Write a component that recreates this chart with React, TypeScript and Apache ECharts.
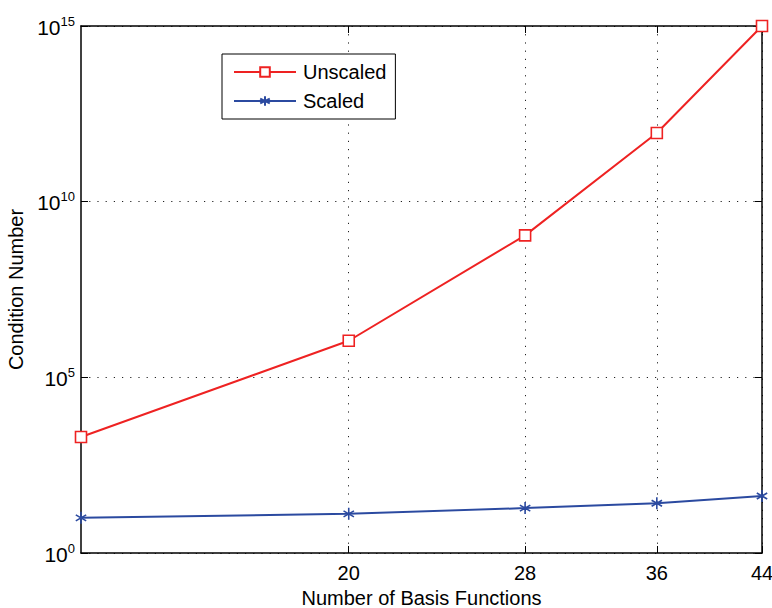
import React, { useEffect, useRef } from "react";
import * as echarts from "echarts";

// Number of basis functions (log-scaled x axis)
const basisCounts = [12, 20, 28, 36, 44];
// Condition numbers without and with scaling
const unscaled = [2000, 1.1e6, 1.1e9, 9e11, 1e15];
const scaled = [10, 13, 19, 26, 42];
// Labelled x ticks
const xTicks = [20, 28, 36, 44];

const FONT = "Liberation Sans, Arial, Helvetica, sans-serif";
const FS = 20;
const RED = "#ee2222";
const BLUE = "#2b4aa0";
const ASTERISK = "path://M0,-6L0,6M-5.2,-3L5.2,3M-5.2,3L5.2,-3";

export default function App() {
  const ref = useRef<HTMLDivElement>(null);

  useEffect(() => {
    if (!ref.current) return;
    const chart = echarts.init(ref.current, null, { renderer: "svg" });

    const gridLine = {
      show: true,
      lineStyle: { color: "#222", width: 1, type: [1.2, 7] as any },
    };
    const tickStyle = { show: true, inside: true, length: 7, lineStyle: { color: "#000", width: 1 } };

    const xBase = {
      type: "log" as const,
      min: 12,
      max: 44,
      logBase: 10,
      axisLine: { show: true, onZero: false, lineStyle: { color: "#000", width: 1.5 } },
    };
    const yBase = {
      type: "log" as const,
      min: 1,
      max: 1e15,
      logBase: 10,
      interval: 5,
      axisLine: { show: true, onZero: false, lineStyle: { color: "#000", width: 1.5 } },
    };

    chart.setOption({
      animation: false,
      backgroundColor: "#fff",
      textStyle: { fontFamily: FONT },
      grid: { left: 81, right: 10, top: 26, bottom: 55, outerBoundsMode: "none", containLabel: false },
      legend: {
        orient: "vertical",
        left: 222,
        top: 54,
        padding: [8, 9, 8, 11],
        itemWidth: 62,
        itemHeight: 12,
        itemGap: 9,
        borderColor: "#000",
        borderWidth: 1,
        backgroundColor: "#fff",
        textStyle: { fontSize: FS, color: "#000", fontFamily: FONT, padding: [0, 0, 0, 2] },
        data: ["Unscaled", "Scaled"],
      },
      xAxis: [
        {
          ...xBase,
          position: "bottom",
          name: "Number of Basis Functions",
          nameLocation: "middle",
          nameGap: 34,
          nameTextStyle: { fontSize: FS, color: "#000", fontFamily: FONT },
          axisTick: { ...tickStyle, customValues: xTicks },
          axisLabel: {
            customValues: xTicks,
            margin: 10,
            fontSize: FS,
            color: "#000",
            fontFamily: FONT,
          },
          splitLine: gridLine,
        },
        {
          ...xBase,
          position: "top",
          axisTick: { ...tickStyle, customValues: xTicks },
          axisLabel: { show: false },
          splitLine: { show: false },
        },
      ],
      yAxis: [
        {
          ...yBase,
          position: "left",
          name: "Condition Number",
          nameLocation: "middle",
          nameGap: 54,
          nameTextStyle: { fontSize: FS, color: "#000", fontFamily: FONT },
          axisTick: tickStyle,
          axisLabel: {
            margin: 6,
            formatter: (v: number) => `{b|10}{s|${Math.round(Math.log10(v))}}`,
            rich: {
              b: { fontSize: 21, color: "#000", fontFamily: FONT, verticalAlign: "bottom" },
              s: {
                fontSize: 13,
                color: "#000",
                fontFamily: FONT,
                verticalAlign: "bottom",
                padding: [0, 0, 10, 0],
              },
            },
          },
          splitLine: gridLine,
        },
        {
          ...yBase,
          position: "right",
          axisTick: tickStyle,
          axisLabel: { show: false },
          splitLine: { show: false },
        },
      ],
      series: [
        {
          name: "Unscaled",
          type: "line",
          data: basisCounts.map((n, i) => [n, unscaled[i]]),
          symbol: "rect",
          symbolSize: 11,
          lineStyle: { color: RED, width: 2 },
          itemStyle: { color: "#fff", borderColor: RED, borderWidth: 1.6 },
          z: 3,
        },
        {
          name: "Scaled",
          type: "line",
          data: basisCounts.map((n, i) => [n, scaled[i]]),
          symbol: ASTERISK,
          symbolKeepAspect: true,
          symbolSize: 12,
          lineStyle: { color: BLUE, width: 2 },
          itemStyle: { color: BLUE, borderColor: BLUE, borderWidth: 1.6 },
          z: 3,
        },
      ],
    });

    return () => chart.dispose();
  }, []);

  return (
    <div
      ref={ref}
      style={{ position: "fixed", left: 0, top: 0, width: 772, height: 608 }}
    />
  );
}
